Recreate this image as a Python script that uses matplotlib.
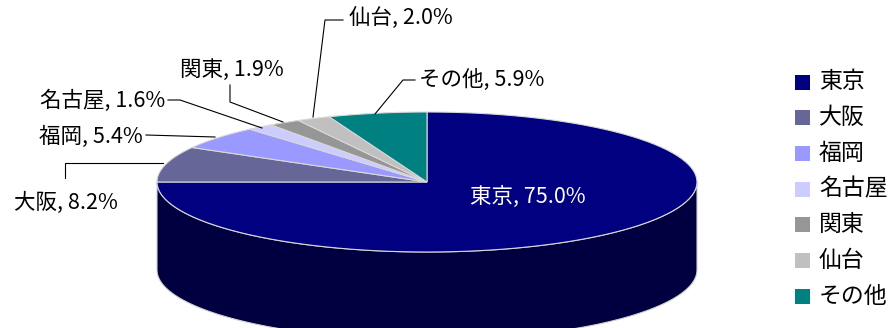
import numpy as np
import matplotlib.pyplot as plt
from matplotlib.patches import Polygon

plt.rcParams['font.family'] = ['Noto Sans CJK JP', 'DejaVu Sans']

labels = ['東京', '大阪', '福岡', '名古屋', '関東', '仙台', 'その他']
shares = [75.0, 8.2, 5.4, 1.6, 1.9, 2.0, 5.9]
colors = ['#000080', '#666699', '#9999FF', '#CCCCFF', '#969696', '#C0C0C0', '#008080']

# pie geometry in pixel units (y grows downward)
cx, cy, rx, ry, depth = 427, 182, 270, 70, 88


def arc(t0, t1, n=100, dy=0):
    t = np.radians(np.linspace(t0, t1, n))
    return np.column_stack([cx + rx * np.cos(t), cy + dy - ry * np.sin(t)])


fig = plt.figure(figsize=(8.9, 3.28), dpi=100)
ax = fig.add_axes([0, 0, 1, 1])
ax.set_xlim(0, 890)
ax.set_ylim(328, 0)
ax.axis('off')

# front wall of the first slice
top = arc(180, 360)
bottom = arc(360, 180, dy=depth)
ax.add_patch(Polygon(np.vstack([top, bottom]), closed=True, facecolor='#000040',
                     edgecolor='#D0D0D0', lw=0.8, zorder=1))

# top surface
start = 90
for v, c in zip(shares, colors):
    end = start - v * 3.6
    pts = np.vstack([[cx, cy], arc(start, end)])
    ax.add_patch(Polygon(pts, closed=True, facecolor=c, edgecolor='#D8D8D8', lw=0.8, zorder=2))
    start = end

txt = dict(fontsize=15.5, color='black', va='center')
ax.text(528, 197, f'{labels[0]}, {shares[0]:.1f}%', color='white', fontsize=15.5,
        ha='center', va='center', zorder=5)

# outer labels with leader lines
ax.text(118, 203, f'{labels[1]}, {shares[1]:.1f}%', ha='right', **txt)
ax.plot([65, 65, 163], [178, 163, 163], color='black', lw=0.8)

ax.text(143, 137, f'{labels[2]}, {shares[2]:.1f}%', ha='right', **txt)
ax.plot([146, 215], [135, 137], color='black', lw=0.8)

ax.text(165, 101, f'{labels[3]}, {shares[3]:.1f}%', ha='right', **txt)
ax.plot([168, 180, 262], [100, 100, 128], color='black', lw=0.8)

ax.text(180, 70, f'{labels[4]}, {shares[4]:.1f}%', ha='left', **txt)
ax.plot([230, 230, 283], [85, 102, 122], color='black', lw=0.8)

ax.text(349, 19, f'{labels[5]}, {shares[5]:.1f}%', ha='left', **txt)
ax.plot([343, 325, 313], [20, 20, 117], color='black', lw=0.8)

ax.text(419, 80, f'{labels[6]}, {shares[6]:.1f}%', ha='left', **txt)
ax.plot([415, 403, 375], [80, 80, 114], color='black', lw=0.8)

# legend
for i, (lab, c) in enumerate(zip(labels, colors)):
    y = 82 + i * 35.7
    ax.add_patch(plt.Rectangle((795, y - 7.5), 15, 15, facecolor=c, edgecolor='none'))
    ax.text(819, y, lab, fontsize=16.5, va='center', ha='left')

fig.savefig('out.png', dpi=100)
